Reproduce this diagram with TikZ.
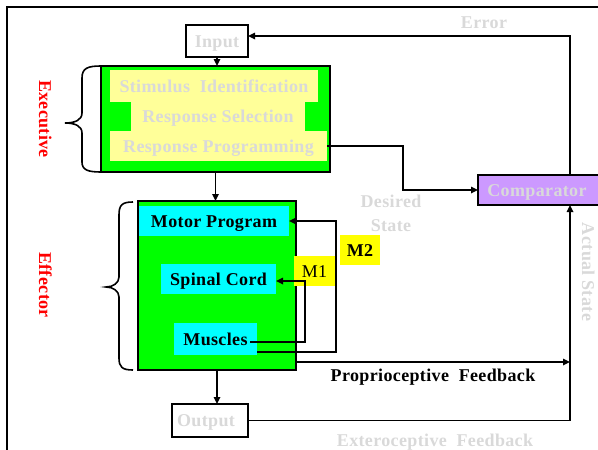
\documentclass[tikz,border=0pt]{standalone}
\usepackage{fontspec}
\setmainfont[LetterSpace=2]{Liberation Serif}
\usetikzlibrary{arrows.meta}
\definecolor{lgreen}{RGB}{0,255,0}
\definecolor{pyellow}{RGB}{255,255,153}
\definecolor{lcyan}{RGB}{0,255,255}
\definecolor{lpurple}{RGB}{204,153,255}
\definecolor{lyellow}{RGB}{255,255,0}
\definecolor{ltext}{RGB}{217,217,217}
\definecolor{lred}{RGB}{255,0,0}
\tikzset{
  every node/.style={inner sep=0pt, outer sep=0pt},
  big/.style={font=\bfseries\fontsize{18}{20}\selectfont, text height=13pt, text depth=1pt},
  gtext/.style={big, text=ltext},
  rbox/.style={draw=black, line width=1.6pt, minimum width=#1},
  fillbox/.style={minimum width=#1},
  conn/.style={line width=1.6pt, draw=black},
  arr/.style={conn, -{Triangle[length=7pt,width=6.5pt]}},
  bracestyle/.style={line width=1.6pt, draw=black},
}
\begin{document}
\begin{tikzpicture}[x=1pt, y=-1pt]
\path[use as bounding box] (0,0) rectangle (598,450);
\clip (0,0) rectangle (598,450);
% outer frame
\draw[line width=1.6pt] (7,7) rectangle (620,470);

% executive
\node[rbox=229pt, fill=lgreen, minimum height=106pt] (exec) at (215.5,119) {};
\node[fillbox=208pt, fill=pyellow, minimum height=32pt, gtext] (stim) at (214,86) {Stimulus\ \ Identification};
\node[fillbox=174pt, fill=pyellow, minimum height=29pt, gtext] (sel) at (218,116.5) {Response Selection};
\node[fillbox=217pt, fill=pyellow, minimum height=30pt, gtext] (prog) at (218.5,146) {Response Programming};

% input
\node[rbox=62pt, fill=white, minimum height=32pt, gtext] (input) at (217,41) {Input};

% effector
\node[rbox=158pt, fill=lgreen, minimum height=169pt] (eff) at (217,285.5) {};
\node[fillbox=150pt, fill=lcyan, minimum height=30pt, big] (motor) at (214,221) {Motor Program};
\node[fillbox=115pt, fill=lcyan, minimum height=30pt, big] (spinal) at (218.5,279) {Spinal Cord};
\node[fillbox=83pt, fill=lcyan, minimum height=32pt, big] (muscles) at (215.5,339) {Muscles};

% output
\node[rbox=76pt, fill=white, minimum height=33pt] (output) at (210,420.5) {};
\node[gtext] (outtxt) at (206,420.5) {Output};

% comparator
\node[rbox=132pt, fill=lpurple, minimum height=30pt] (comp) at (544,190) {};
\node[gtext] (comptxt) at (537,190) {Comparator};

% M labels
\node[fillbox=41pt, fill=lyellow, minimum height=30pt, font=\fontsize{18}{20}\selectfont, text height=13pt, text depth=1pt] (m1) at (314.5,271) {M1};
\node[fillbox=40pt, fill=lyellow, minimum height=30pt, big] (m2) at (360,250) {M2};

% coordinates
\coordinate (cx) at (570,0);

% connectors
\draw[arr] (input.south) -- (input.south |- exec.north);
\draw[arr] (exec.south) -- (exec.south |- eff.north);
\draw[arr] (eff.south) -- (eff.south |- output.north);
\draw[arr] (prog.east) -- ++(76,0) |- (comp.west);
\draw[arr] (comp.north -| cx) |- ([yshift=5pt]input.east);
\draw[arr] (output.east) -| (comp.south -| cx);
\draw[arr] ([yshift=8pt]eff.south east) -- ([yshift=8pt]eff.south east -| cx);
\draw[arr] ([xshift=-7pt,yshift=-3pt]muscles.east) -- ++(55,0) |- ([yshift=-2pt]spinal.east);
\draw[arr] ([yshift=-13pt]muscles.east) -- ++(79,0) |- (motor.east);

% braces
\draw[bracestyle] (exec.north west) .. controls (88,66) and (82,68) .. (82,78) -- (82,113) .. controls (82,120) and (75,123) .. (65,123) .. controls (75,123) and (82,126) .. (82,133) -- (82,162) .. controls (82,170) and (88,172) .. (exec.south west);
\coordinate (bt) at (133,202);
\coordinate (bb) at (133,370);
\draw[bracestyle] (bt) .. controls (122,202) and (119,205) .. (119,215) -- (119,277) .. controls (119,283) and (113,287) .. (106,287) .. controls (113,287) and (119,291) .. (119,297) -- (119,358) .. controls (119,367) and (122,370) .. (bb);

% labels
\node[big, text=lred, rotate=-90] (lexec) at (45,119) {Executive};
\node[big, text=lred, rotate=-90] (leff) at (45,285) {Effector};
\node[gtext] (lerr) at (484,22) {Error};
\node[gtext] (ldes1) at (391,201) {Desired};
\node[gtext] (ldes2) at (391,225) {State};
\node[big] (lprop) at (433,375) {Proprioceptive\ \ Feedback};
\node[gtext] (lext) at (435,440) {Exteroceptive\ \ Feedback};
\node[gtext, rotate=-90] (lact) at (588,272) {Actual State};
\end{tikzpicture}
\end{document}
